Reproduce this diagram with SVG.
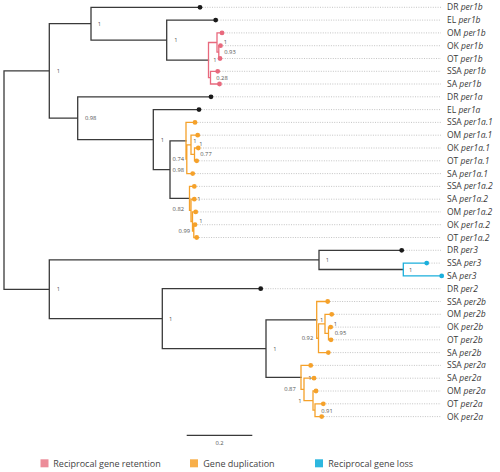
<svg xmlns="http://www.w3.org/2000/svg" width="500" height="472" viewBox="0 0 500 472">
<style>
.br{fill:none;stroke-width:1.3;stroke-linecap:square}
.k{stroke:#3a3a3a}.p{stroke:#E8697D}.o{stroke:#F5A12A}.c{stroke:#1BAFDC}
.lead{stroke:#aaaaaa;stroke-width:0.7;stroke-dasharray:1 1.4;fill:none}
.tl{font-family:"Open Sans","Noto Sans",sans-serif;font-size:8.5px;fill:#3a3a3a}
.i{font-style:italic}
.bs{font-family:"Open Sans","Noto Sans",sans-serif;font-size:5.8px;fill:#555;text-anchor:middle}
.lg{font-family:"Open Sans","Noto Sans",sans-serif;font-size:9px;fill:#444}
.dk{fill:#1a1a1a}.dp{fill:#E8697D}.do{fill:#F5A12A}.dc{fill:#1BAFDC}
</style>
<g id="connectors">
<path class="br k" d="M4,70.95V289.3 M4,70.95H49.3 M4,289.3H49.3 M49.3,23.7V118.2 M49.3,259.9V318.7 M49.3,23.7H91 M49.3,118.2H77.7 M91,7.3V40.1 M91,7.3H200 M91,40.1H166.7 M166.7,20.1V60.07 M166.7,20.1H215.7 M166.7,60.07H208.5 M77.7,96.8V139.6 M77.7,96.8H211 M77.7,139.6H153.3 M153.3,109.6V169.6 M153.3,109.6H199 M153.3,169.6H170 M170,140.8V198.4 M170,140.8H186 M170,198.4H189.5 M49.3,259.9H319 M49.3,318.7H162.3 M319,250.3V269.5 M319,250.3H401.7 M319,269.5H403.3 M162.3,288.7V348.65 M162.3,288.7H260.7 M162.3,348.65H266 M266,319.9V377.4 M266,319.9H316.7 M266,377.4H301"/>
<path class="br p" d="M208.5,42.5V77.65 M208.5,42.5H217 M208.5,77.65H210.5 M217,32.9V52.1 M217,32.9H222 M217,52.1H218.8 M218.8,45.7V58.5 M218.8,45.7H220.5 M218.8,58.5H220 M210.5,71.3V84 M210.5,71.3H217.7 M210.5,84H219.5"/>
<path class="br o" d="M186,122.4V159.2 M186,122.4H195 M186,159.2H186.8 M186.8,144.8V173.6 M186.8,144.8H191 M186.8,173.6H192.7 M191,135.2V154.4 M191,135.2H197.7 M191,154.4H194.5 M194.5,148V160.8 M194.5,148H198.3 M194.5,160.8H196.7"/>
<path class="br o" d="M189.5,186.4V210.35 M189.5,186.4H194.3 M189.5,210.35H191 M191,199.2V221.5 M191,199.2H194.3 M191,221.5H192.5 M192.5,211.9V231.1 M192.5,211.9H195.7 M192.5,231.1H193.8 M193.8,224.7V237.5 M193.8,224.7H195 M193.8,237.5H196.7"/>
<path class="br o" d="M316.7,301.5V338.25 M316.7,301.5H327.7 M316.7,338.25H318.5 M318.5,323.9V352.6 M318.5,323.9H325 M318.5,352.6H328.3 M325,314.3V333.45 M325,314.3H331.7 M325,333.45H328.5 M328.5,327.1V339.8 M328.5,327.1H330.7 M328.5,339.8H331"/>
<path class="br o" d="M301,365.4V389.4 M301,365.4H310.7 M301,389.4H304 M304,378.2V400.6 M304,378.2H314 M304,400.6H313 M313,391V410.2 M313,391H316 M313,410.2H315 M315,403.8V416.6 M315,403.8H323.3 M315,416.6H321.7"/>
<path class="br c" d="M403.3,263.1V275.9 M403.3,263.1H426.7 M403.3,275.9H441.7"/>
</g>
<g id="leaders">
<path class="lead" d="M200,7.3H441 M215.7,20.1H441 M222,32.9H441 M220.5,45.7H441 M220,58.5H441 M217.7,71.3H441 M219.5,84H441 M211,96.8H441 M199,109.6H441 M195,122.4H441 M197.7,135.2H441 M198.3,148H441 M196.7,160.8H441 M192.7,173.6H441 M194.3,186.4H441 M194.3,199.2H441 M195.7,211.9H441 M195,224.7H441 M196.7,237.5H441 M401.7,250.3H441 M426.7,263.1H441 M260.7,288.7H441 M327.7,301.5H441 M331.7,314.3H441 M330.7,327.1H441 M331,339.8H441 M328.3,352.6H441 M310.7,365.4H441 M314,378.2H441 M316,391H441 M323.3,403.8H441 M321.7,416.6H441"/>
</g>
<g id="tip-DR-per1b"><circle class="dk" cx="200" cy="7.3" r="2.4"/><text class="tl" x="447" y="10.3">DR <tspan class="i">per1b</tspan></text></g>
<g id="tip-EL-per1b"><circle class="dk" cx="215.7" cy="20.1" r="2.4"/><text class="tl" x="447" y="23.1">EL <tspan class="i">per1b</tspan></text></g>
<g id="tip-OM-per1b"><circle class="dp" cx="222" cy="32.9" r="2.4"/><text class="tl" x="447" y="35.9">OM <tspan class="i">per1b</tspan></text></g>
<g id="tip-OK-per1b"><circle class="dp" cx="220.5" cy="45.7" r="2.4"/><text class="tl" x="447" y="48.7">OK <tspan class="i">per1b</tspan></text></g>
<g id="tip-OT-per1b"><circle class="dp" cx="220" cy="58.5" r="2.4"/><text class="tl" x="447" y="61.5">OT <tspan class="i">per1b</tspan></text></g>
<g id="tip-SSA-per1b"><circle class="dp" cx="217.7" cy="71.3" r="2.4"/><text class="tl" x="447" y="74.3">SSA <tspan class="i">per1b</tspan></text></g>
<g id="tip-SA-per1b"><circle class="dp" cx="219.5" cy="84" r="2.4"/><text class="tl" x="447" y="87">SA <tspan class="i">per1b</tspan></text></g>
<g id="tip-DR-per1a"><circle class="dk" cx="211" cy="96.8" r="2.4"/><text class="tl" x="447" y="99.8">DR <tspan class="i">per1a</tspan></text></g>
<g id="tip-EL-per1a"><circle class="dk" cx="199" cy="109.6" r="2.4"/><text class="tl" x="447" y="112.6">EL <tspan class="i">per1a</tspan></text></g>
<g id="tip-SSA-per1a.1"><circle class="do" cx="195" cy="122.4" r="2.4"/><text class="tl" x="447" y="125.4">SSA <tspan class="i">per1a.1</tspan></text></g>
<g id="tip-OM-per1a.1"><circle class="do" cx="197.7" cy="135.2" r="2.4"/><text class="tl" x="447" y="138.2">OM <tspan class="i">per1a.1</tspan></text></g>
<g id="tip-OK-per1a.1"><circle class="do" cx="198.3" cy="148" r="2.4"/><text class="tl" x="447" y="151">OK <tspan class="i">per1a.1</tspan></text></g>
<g id="tip-OT-per1a.1"><circle class="do" cx="196.7" cy="160.8" r="2.4"/><text class="tl" x="447" y="163.8">OT <tspan class="i">per1a.1</tspan></text></g>
<g id="tip-SA-per1a.1"><circle class="do" cx="192.7" cy="173.6" r="2.4"/><text class="tl" x="447" y="176.6">SA <tspan class="i">per1a.1</tspan></text></g>
<g id="tip-SSA-per1a.2"><circle class="do" cx="194.3" cy="186.4" r="2.4"/><text class="tl" x="447" y="189.4">SSA <tspan class="i">per1a.2</tspan></text></g>
<g id="tip-SA-per1a.2"><circle class="do" cx="194.3" cy="199.2" r="2.4"/><text class="tl" x="447" y="202.2">SA <tspan class="i">per1a.2</tspan></text></g>
<g id="tip-OM-per1a.2"><circle class="do" cx="195.7" cy="211.9" r="2.4"/><text class="tl" x="447" y="214.9">OM <tspan class="i">per1a.2</tspan></text></g>
<g id="tip-OK-per1a.2"><circle class="do" cx="195" cy="224.7" r="2.4"/><text class="tl" x="447" y="227.7">OK <tspan class="i">per1a.2</tspan></text></g>
<g id="tip-OT-per1a.2"><circle class="do" cx="196.7" cy="237.5" r="2.4"/><text class="tl" x="447" y="240.5">OT <tspan class="i">per1a.2</tspan></text></g>
<g id="tip-DR-per3"><circle class="dk" cx="401.7" cy="250.3" r="2.4"/><text class="tl" x="447" y="253.3">DR <tspan class="i">per3</tspan></text></g>
<g id="tip-SSA-per3"><circle class="dc" cx="426.7" cy="263.1" r="2.4"/><text class="tl" x="447" y="266.1">SSA <tspan class="i">per3</tspan></text></g>
<g id="tip-SA-per3"><circle class="dc" cx="441.7" cy="275.9" r="2.4"/><text class="tl" x="447" y="278.9">SA <tspan class="i">per3</tspan></text></g>
<g id="tip-DR-per2"><circle class="dk" cx="260.7" cy="288.7" r="2.4"/><text class="tl" x="447" y="291.7">DR <tspan class="i">per2</tspan></text></g>
<g id="tip-SSA-per2b"><circle class="do" cx="327.7" cy="301.5" r="2.4"/><text class="tl" x="447" y="304.5">SSA <tspan class="i">per2b</tspan></text></g>
<g id="tip-OM-per2b"><circle class="do" cx="331.7" cy="314.3" r="2.4"/><text class="tl" x="447" y="317.3">OM <tspan class="i">per2b</tspan></text></g>
<g id="tip-OK-per2b"><circle class="do" cx="330.7" cy="327.1" r="2.4"/><text class="tl" x="447" y="330.1">OK <tspan class="i">per2b</tspan></text></g>
<g id="tip-OT-per2b"><circle class="do" cx="331" cy="339.8" r="2.4"/><text class="tl" x="447" y="342.8">OT <tspan class="i">per2b</tspan></text></g>
<g id="tip-SA-per2b"><circle class="do" cx="328.3" cy="352.6" r="2.4"/><text class="tl" x="447" y="355.6">SA <tspan class="i">per2b</tspan></text></g>
<g id="tip-SSA-per2a"><circle class="do" cx="310.7" cy="365.4" r="2.4"/><text class="tl" x="447" y="368.4">SSA <tspan class="i">per2a</tspan></text></g>
<g id="tip-SA-per2a"><circle class="do" cx="314" cy="378.2" r="2.4"/><text class="tl" x="447" y="381.2">SA <tspan class="i">per2a</tspan></text></g>
<g id="tip-OM-per2a"><circle class="do" cx="316" cy="391" r="2.4"/><text class="tl" x="447" y="394">OM <tspan class="i">per2a</tspan></text></g>
<g id="tip-OT-per2a"><circle class="do" cx="323.3" cy="403.8" r="2.4"/><text class="tl" x="447" y="406.8">OT <tspan class="i">per2a</tspan></text></g>
<g id="tip-OK-per2a"><circle class="do" cx="321.7" cy="416.6" r="2.4"/><text class="tl" x="447" y="419.6">OK <tspan class="i">per2a</tspan></text></g>
<g id="support">
<text class="bs" x="99.3" y="26">1</text>
<text class="bs" x="176" y="42.3">1</text>
<text class="bs" x="215" y="61.5">1</text>
<text class="bs" x="225.5" y="44">1</text>
<text class="bs" x="230" y="53.7">0.93</text>
<text class="bs" x="222" y="79.5">0.28</text>
<text class="bs" x="58.3" y="73">1</text>
<text class="bs" x="90.7" y="120.3">0.98</text>
<text class="bs" x="162.3" y="142">1</text>
<text class="bs" x="178.3" y="172">0.98</text>
<text class="bs" x="178.3" y="161.3">0.74</text>
<text class="bs" x="195" y="142.7">1</text>
<text class="bs" x="201" y="146.3">1</text>
<text class="bs" x="206" y="156.3">0.77</text>
<text class="bs" x="199" y="201.3">1</text>
<text class="bs" x="178.3" y="211.3">0.82</text>
<text class="bs" x="201" y="223">1</text>
<text class="bs" x="184.3" y="232.7">0.99</text>
<text class="bs" x="58.3" y="291.3">1</text>
<text class="bs" x="327.3" y="262">1</text>
<text class="bs" x="410.7" y="272">1</text>
<text class="bs" x="170.7" y="321">1</text>
<text class="bs" x="275" y="351.3">1</text>
<text class="bs" x="321.7" y="322">1</text>
<text class="bs" x="335.3" y="326">1</text>
<text class="bs" x="340.5" y="335.3">0.95</text>
<text class="bs" x="307.5" y="340.3">0.92</text>
<text class="bs" x="310" y="379.5">1</text>
<text class="bs" x="290" y="391.3">0.87</text>
<text class="bs" x="300" y="402.7">1</text>
<text class="bs" x="327" y="412.5">0.91</text>
</g>
<g id="scale-bar">
<line x1="186.7" y1="435.3" x2="252.3" y2="435.3" stroke="#3a3a3a" stroke-width="1.2"/>
<text class="bs" x="219.5" y="445">0.2</text>
</g>
<g id="legend">
<rect x="40.5" y="459.3" width="8" height="8" fill="#EC8C99"/>
<text class="lg" x="53.3" y="466.6">Reciprocal gene retention</text>
<rect x="190" y="459.3" width="8" height="8" fill="#F8AF4A"/>
<text class="lg" x="203.3" y="466.6">Gene duplication</text>
<rect x="315" y="459.3" width="8" height="8" fill="#2DB7DF"/>
<text class="lg" x="328.3" y="466.6">Reciprocal gene loss</text>
</g>
</svg>
